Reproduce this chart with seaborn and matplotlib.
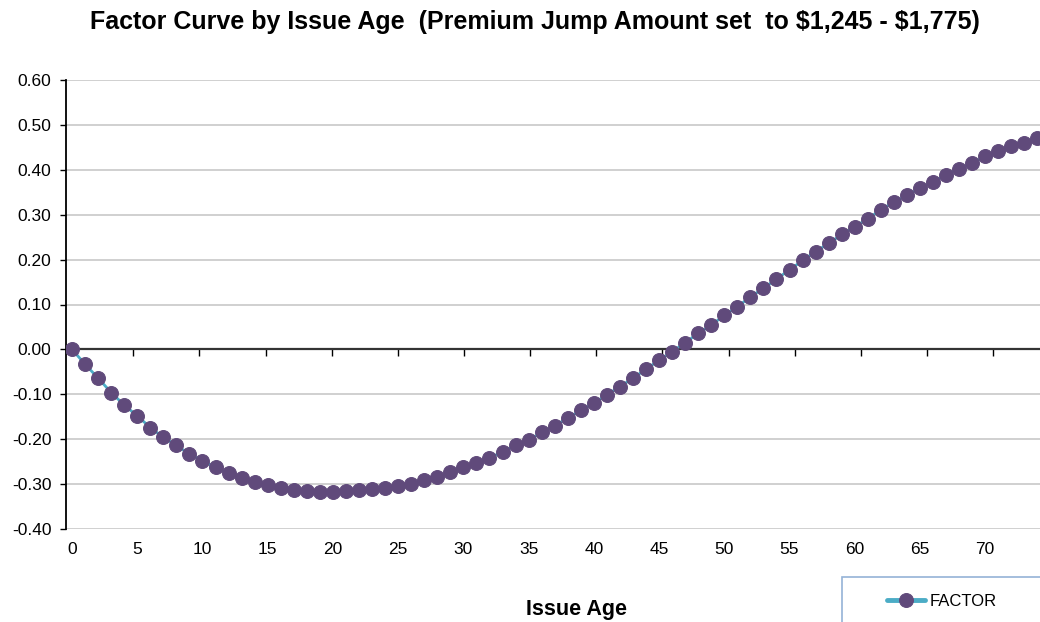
import numpy as np
import pandas as pd
import seaborn as sns
import matplotlib.pyplot as plt
from matplotlib.patches import Rectangle

# Factor values, one per issue age
ages = list(range(0, 75))
factor = [
    0.000, -0.033, -0.064, -0.096, -0.124, -0.148, -0.174, -0.196, -0.214, -0.233,
    -0.248, -0.263, -0.276, -0.286, -0.295, -0.302, -0.308, -0.313, -0.316, -0.317,
    -0.317, -0.316, -0.314, -0.311, -0.309, -0.304, -0.300, -0.291, -0.285, -0.274,
    -0.263, -0.254, -0.241, -0.229, -0.213, -0.202, -0.185, -0.170, -0.153, -0.136,
    -0.120, -0.101, -0.083, -0.064, -0.044, -0.024, -0.005, 0.015, 0.036, 0.054,
    0.076, 0.095, 0.117, 0.136, 0.157, 0.177, 0.198, 0.218, 0.236, 0.256,
    0.273, 0.291, 0.311, 0.328, 0.343, 0.359, 0.373, 0.389, 0.402, 0.415,
    0.430, 0.441, 0.452, 0.460, 0.471,
]
x_labels = list(range(0, 75, 5))
y_ticks = [-0.40, -0.30, -0.20, -0.10, 0.00, 0.10, 0.20, 0.30, 0.40, 0.50, 0.60]

df = pd.DataFrame({"Issue Age": ages, "FACTOR": factor})

sns.set_theme(style="white")
plt.rcParams['font.family'] = ['Liberation Sans', 'DejaVu Sans']

W, H = 1040, 622
fig = plt.figure(figsize=(W / 100, H / 100), dpi=100)
ax = fig.add_axes([65.5 / W, 1 - 529 / H, (W - 65.5) / W, (529 - 80) / H])

line_col = "#4BACC6"
mark_col = "#604A7B"
sns.lineplot(data=df, x="Issue Age", y="FACTOR", ax=ax, color=line_col, linewidth=2,
             marker="o", markersize=10, markerfacecolor=mark_col, markeredgecolor=mark_col,
             label="FACTOR", legend=False, zorder=3)

ax.set_xlim(-0.5, 74.2)
ax.set_ylim(-0.40, 0.60)
ax.set_yticks(y_ticks)
ax.set_yticklabels([f"{v:.2f}" for v in y_ticks], fontsize=12.5, color="black")
ax.set_xticks(x_labels)
ax.set_xticklabels([str(v) for v in x_labels], fontsize=12.5, color="black")
ax.tick_params(axis="x", length=0, pad=9)
ax.tick_params(axis="y", length=4, width=1, color="black", direction="out", pad=6, left=True)

ax.grid(axis="y", color="#C8C8C8", linewidth=1.2)
ax.grid(axis="x", visible=False)
for s in ["top", "right", "bottom"]:
    ax.spines[s].set_visible(False)
ax.spines["left"].set_color("black")
ax.spines["left"].set_linewidth(1.3)

# zero axis line with its own tick marks
ax.axhline(0, color="#333333", linewidth=1.6, zorder=2.5)
zero = ax.secondary_xaxis(0.4)
zero.set_xticks(np.arange(4.7, 74, 5.07))
zero.set_xticklabels([])
zero.tick_params(length=5, width=1, color="black", direction="out")
zero.spines["bottom"].set_visible(False)

ax.set_ylabel("")
ax.set_xlabel("Issue Age", fontsize=15.5, fontweight="bold", color="black")
ax.xaxis.set_label_coords((577 - 65.5) / (W - 65.5), -0.155)

fig.text(535 / W, 1 - 22 / H,
         r"Factor Curve by Issue Age  (Premium Jump Amount set  to \$1,245 - \$1,775)",
         ha="center", va="center", fontsize=18, fontweight="bold", color="black")

# legend: frame box runs off the figure edge like the cropped original
fig.patches.append(Rectangle((842 / W, -0.02), 0.3, 1 - 577 / H + 0.02,
                             transform=fig.transFigure, facecolor="white",
                             edgecolor="#95B3D7", linewidth=1.2, zorder=-1))
leg = fig.legend(*ax.get_legend_handles_labels(), loc="center left",
                 bbox_to_anchor=(887 / W, 1 - 601 / H),
                 fontsize=12, frameon=False,
                 handlelength=2.3, handletextpad=0.25, borderpad=0, borderaxespad=0)
leg.set_zorder(5)
for h in leg.legend_handles:
    h.set_linewidth(3.5)
for t in leg.get_texts():
    t.set_color("black")

fig.savefig("out.png", dpi=100)
